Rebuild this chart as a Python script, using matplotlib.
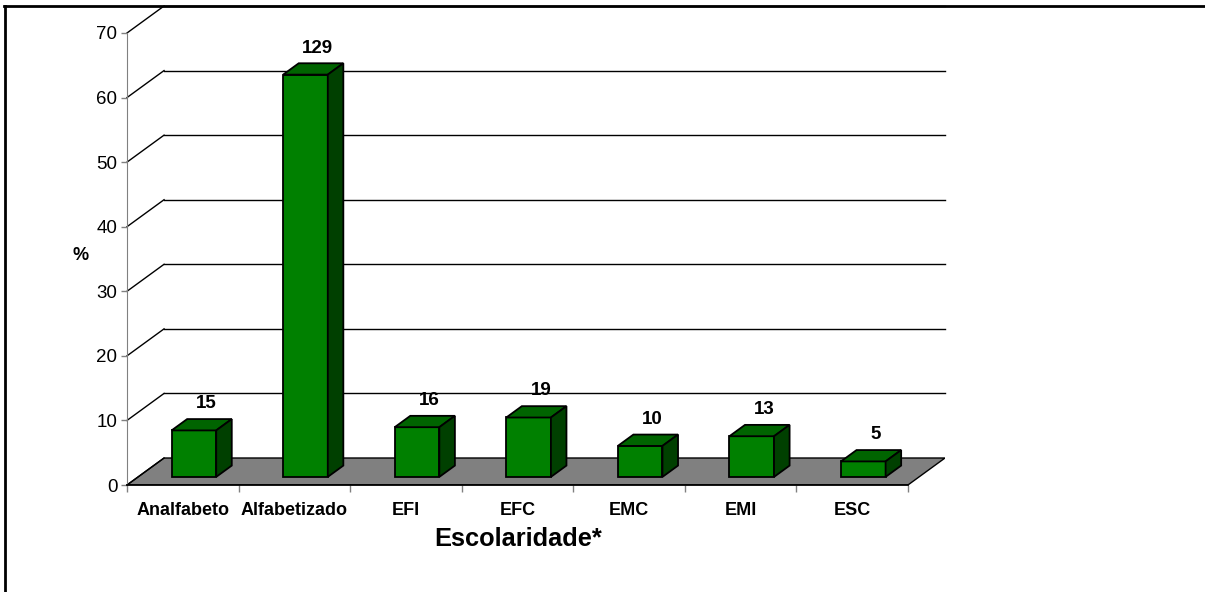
import numpy as np
import matplotlib.pyplot as plt
from matplotlib.patches import Polygon
from matplotlib.lines import Line2D

plt.rcParams['font.family'] = ['Liberation Sans', 'DejaVu Sans']

# dados
categorias = ["Analfabeto", "Alfabetizado", "EFI", "EFC", "EMC", "EMI", "ESC"]
contagens = [15, 129, 16, 19, 10, 13, 5]
percentuais = [7.2, 62.3, 7.7, 9.2, 4.8, 6.3, 2.4]
y_ticks = [0, 10, 20, 30, 40, 50, 60, 70]

# "3D" look: depth offset of the back wall (in data units)
DX = 0.332
DY = 4.18
D0, D1 = 0.30, 0.72      # bar front / back depth
BW = 0.40                # bar width
FRONT = "#008000"
TOP = "#006400"
SIDE = "#004000"

fig = plt.figure(figsize=(12.05, 5.92), dpi=100)
ax = fig.add_axes([127 / 1205, 107 / 592, 818 / 1205, 479 / 592])
n = len(categorias)
ax.set_xlim(0, n + DX)
ax.set_ylim(0, y_ticks[-1] + DY)

# floor
ax.add_patch(Polygon([(0, 0), (n, 0), (n + DX, DY), (DX, DY)],
                     facecolor="#808080", edgecolor="black", lw=1, zorder=1))

# back wall gridlines + side diagonals
for v in y_ticks:
    if v > 0:
        ax.plot([DX, n + DX], [v + DY, v + DY], color="black", lw=1,
                zorder=0.5, clip_on=False)
    ax.plot([0, DX], [v, v + DY], color="black", lw=1, zorder=1.5, clip_on=False)

# bars
centros = np.arange(n) + 0.5
xf = centros + D0 * DX
base = D0 * DY
dd = D1 - D0
ax.bar(xf, percentuais, width=BW, bottom=base, color=FRONT,
       edgecolor="black", lw=1.3, zorder=3)
for x, p, c in zip(xf, percentuais, contagens):
    xl, xr = x - BW / 2, x + BW / 2
    top = base + p
    ax.add_patch(Polygon([(xl, top), (xr, top), (xr + dd * DX, top + dd * DY),
                          (xl + dd * DX, top + dd * DY)],
                         facecolor=TOP, edgecolor="black", lw=1.3, zorder=3))
    ax.add_patch(Polygon([(xr, base), (xr, top), (xr + dd * DX, top + dd * DY),
                          (xr + dd * DX, base + dd * DY)],
                         facecolor=SIDE, edgecolor="black", lw=1.3, zorder=3))
    ax.annotate(str(c), (x + 0.33 * DX, top + dd * DY), xytext=(0, 11),
                textcoords="offset points", ha="center", va="center",
                fontsize=13.5, fontweight="bold", zorder=4)

# axes
for s in ["top", "right"]:
    ax.spines[s].set_visible(False)
ax.spines["left"].set_bounds(0, y_ticks[-1])
ax.spines["left"].set_color("#808080")
ax.spines["bottom"].set_bounds(0, n)
ax.spines["bottom"].set_linewidth(1.3)
ax.set_yticks(y_ticks)
ax.tick_params(axis="y", length=4, width=1, color="#808080", pad=3, labelsize=13.5)
ax.set_xticks(np.arange(n + 1))
ax.set_xticklabels([])
ax.tick_params(axis="x", which="major", length=5, width=1, color="#808080")
ax.set_xticks(centros, minor=True)
ax.set_xticklabels(categorias, minor=True, fontsize=13, fontweight="bold")
ax.tick_params(axis="x", which="minor", length=0, pad=12)

fig.text(81 / 1205, 1 - 256 / 592, "%", ha="center", va="center",
         fontsize=13, fontweight="bold")
fig.text(518 / 1205, 1 - 539 / 592, "Escolaridade*", ha="center", va="center",
         fontsize=18.3, fontweight="bold")

# frame (top & left)
fig.add_artist(Line2D([4 / 1205, 1], [1 - 5.5 / 592, 1 - 5.5 / 592],
                      transform=fig.transFigure, color="black", lw=2))
fig.add_artist(Line2D([5 / 1205, 5 / 1205], [0, 1 - 5.5 / 592],
                      transform=fig.transFigure, color="black", lw=2))

fig.savefig("out.png", dpi=100)
